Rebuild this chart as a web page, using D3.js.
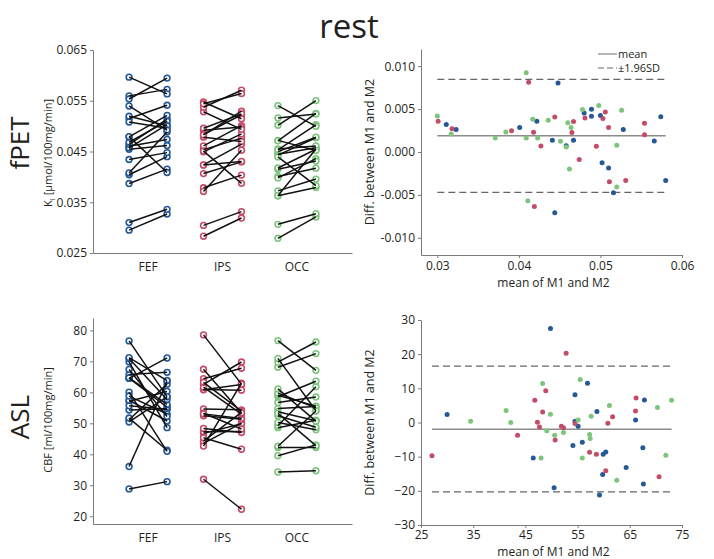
<!DOCTYPE html>
<html>
<head>
<meta charset="utf-8">
<script src="https://cdn.jsdelivr.net/npm/d3@7"></script>
<style>
  html, body { margin: 0; padding: 0; background: #ffffff; }
  svg { display: block; font-family: "Open Sans", "Noto Sans", sans-serif; }
</style>
</head>
<body>
<svg id="chart" width="714" height="559"></svg>
<script>
// ---------------- data ----------------
const regions = ["FEF", "IPS", "OCC"];
const regionColors = ["#255896", "#c44c68", "#7dc47d"];

// fPET Bland-Altman: mean of M1 and M2, difference (M2 - M1)
const fpetMeanFEF = [0.0311,0.0323,0.0401,0.0422,0.0441,0.0448,0.0458,0.0467,0.0480,0.0489,0.0489,0.0500,0.0528,0.0502,0.0510,0.0516,0.0566,0.0574,0.0580,0.0444];
const fpetDiffFEF = [0.00319,0.00261,0.00284,0.00358,0.00136,0.00805,0.00074,0.00136,0.00455,0.00498,0.00416,0.00424,0.00261,-0.00125,-0.00187,-0.00475,0.00128,0.00412,-0.00331,-0.00707];
const fpetMeanIPS = [0.0301,0.0318,0.0391,0.0412,0.0418,0.0427,0.0444,0.0465,0.0467,0.0474,0.0481,0.0495,0.0503,0.0506,0.0510,0.0511,0.0531,0.0554,0.0554,0.0419];
const fpetDiffIPS = [0.00358,0.00272,0.00249,0.00813,0.00230,0.00070,0.00409,0.00226,0.00354,-0.00086,0.00397,0.00066,0.00389,0.00467,0.00284,-0.00346,-0.00331,0.00335,0.00202,-0.00635];
const fpetMeanOCC = [0.0300,0.0317,0.0371,0.0384,0.0409,0.0409,0.0417,0.0423,0.0436,0.0451,0.0458,0.0460,0.0464,0.0462,0.0478,0.0498,0.0520,0.0520,0.0526,0.0411];
const fpetDiffOCC = [0.00420,0.00210,0.00163,0.00233,0.00922,0.00163,0.00381,0.00163,0.00370,0.00125,0.00058,0.00342,0.00284,-0.00198,0.00494,0.00541,-0.00409,0.00078,0.00486,-0.00567];
const fpetLimits = { mean: 0.0019, upper: 0.00845, lower: -0.0047 };

// ASL Bland-Altman
const aslMeanFEF = [30.0,49.8,56.9,54.5,58.7,67.8,66.1,54.5,55.1,46.5,50.5,54.1,55.9,59.9,60.4,59.8,59.2,64.3,67.5,67.6];
const aslDiffFEF = [2.35,27.5,11.5,8.1,3.2,6.6,0.7,0.4,-1.1,-10.4,-19.1,-6.7,-5.8,-9.3,-8.6,-15.2,-21.2,-13.2,-7.4,-18.0];
const aslMeanIPS = [46.8,48.9,48.3,47.3,52.8,61.7,66.2,66.1,54.5,60.8,47.7,50.7,51.9,52.3,43.5,27.1,57.3,58.6,60.4,70.6];
const aslDiffIPS = [6.5,9.3,3.1,0.1,20.3,1.7,7.2,3.4,-0.3,-0.2,-1.3,-5.1,-1.1,-1.5,-3.7,-9.7,-8.7,-9.3,-14.1,-15.9];
const aslMeanOCC = [34.5,41.3,42.2,48.3,49.8,55.5,61.1,57.6,70.3,73.0,55.1,49.1,50.6,52.3,48.0,57.3,57.4,55.9,62.5,71.9];
const aslDiffOCC = [0.4,3.5,0.0,11.4,2.4,12.6,5.0,1.8,4.4,6.5,0.7,-2.4,-3.7,-2.9,-10.4,-3.5,-4.7,-10.4,-16.9,-9.6];
const aslLimits = { mean: -2.0, upper: 16.5, lower: -20.3 };

// tick values
const fpetPairTicks = [0.025, 0.035, 0.045, 0.055, 0.065];
const fpetBAxTicks = [0.03, 0.04, 0.05, 0.06];
const fpetBAyTicks = [-0.010, -0.005, 0.000, 0.005, 0.010];
const aslPairTicks = [20, 30, 40, 50, 60, 70, 80];
const aslBAxTicks = [25, 35, 45, 55, 65, 75];
const aslBAyTicks = [-30, -20, -10, 0, 10, 20, 30];

// ---------------- drawing ----------------
const svg = d3.select("#chart");
const axisColor = "#7a7a7a";
const textColor = "#231f20";
const fmt = (digits) => (d) => (Math.abs(d) < 1e-12 ? (0).toFixed(digits) : d.toFixed(digits));

function styleAxis(g, fontSize) {
  g.selectAll("path.domain").attr("stroke", axisColor).attr("stroke-width", 1);
  g.selectAll(".tick line").attr("stroke", axisColor).attr("stroke-width", 1);
  g.selectAll(".tick text").attr("fill", textColor)
    .style("font-size", fontSize + "px")
    .style("font-family", '"Open Sans", sans-serif');
}

function pairedPanel(cfg) {
  const x = d3.scaleBand().domain(regions).range([cfg.x0, cfg.x1])
    .paddingInner(0).paddingOuter(0.24);
  const y = d3.scaleLinear().domain(cfg.yDomain).range([cfg.y1, cfg.y0]);
  const off = 19;

  const gx = svg.append("g").attr("transform", `translate(0,${cfg.y1})`)
    .call(d3.axisBottom(x).tickSize(0).tickPadding(9));
  styleAxis(gx, 12);
  const gy = svg.append("g").attr("transform", `translate(${cfg.x0},0)`)
    .call(d3.axisLeft(y).tickValues(cfg.yTicks).tickSize(3).tickSizeOuter(0).tickPadding(3)
      .tickFormat(cfg.tickFormat));
  styleAxis(gy, 12);

  cfg.means.forEach((means, r) => {
    const diffs = cfg.diffs[r];
    const pairs = means.map((m, i) => ({ m1: m - diffs[i] / 2, m2: m + diffs[i] / 2 }));
    const cx = x(regions[r]) + x.bandwidth() / 2;
    const g = svg.append("g");
    g.selectAll("circle.l").data(pairs).join("circle")
      .attr("cx", cx - off).attr("cy", d => y(d.m1)).attr("r", 2.9)
      .attr("fill", "#fff").attr("stroke", regionColors[r]).attr("stroke-width", 1.6);
    g.selectAll("circle.r").data(pairs).join("circle")
      .attr("cx", cx + off).attr("cy", d => y(d.m2)).attr("r", 2.9)
      .attr("fill", "#fff").attr("stroke", regionColors[r]).attr("stroke-width", 1.6);
    g.selectAll("line").data(pairs).join("line")
      .attr("x1", cx - off).attr("x2", cx + off)
      .attr("y1", d => y(d.m1)).attr("y2", d => y(d.m2))
      .attr("stroke", "#111").attr("stroke-width", 1.5);
  });
  return { x, y };
}

function baPanel(cfg) {
  const x = d3.scaleLinear().domain(cfg.xDomain).range([cfg.x0, cfg.x1]);
  const y = d3.scaleLinear().domain(cfg.yDomain).range([cfg.y1, cfg.y0]);

  const gx = svg.append("g").attr("transform", `translate(0,${cfg.y1})`)
    .call(d3.axisBottom(x).tickValues(cfg.xTicks).tickSize(3).tickSizeOuter(0).tickPadding(cfg.xPad)
      .tickFormat(cfg.xFormat));
  styleAxis(gx, 12);
  const gy = svg.append("g").attr("transform", `translate(${cfg.x0},0)`)
    .call(d3.axisLeft(y).tickValues(cfg.yTicks).tickSize(3).tickSizeOuter(0).tickPadding(3)
      .tickFormat(cfg.yFormat));
  styleAxis(gy, 12);

  const allMeans = cfg.means.flat();
  const [mn, mx] = d3.extent(allMeans);
  svg.append("line").attr("x1", x(mn)).attr("x2", x(mx))
    .attr("y1", y(cfg.limits.mean)).attr("y2", y(cfg.limits.mean))
    .attr("stroke", "#8c8c8c").attr("stroke-width", 1.5);
  [cfg.limits.upper, cfg.limits.lower].forEach(v => {
    svg.append("line").attr("x1", x(mn)).attr("x2", x(mx))
      .attr("y1", y(v)).attr("y2", y(v))
      .attr("stroke", "#666").attr("stroke-width", 1.2).attr("stroke-dasharray", "7,4");
  });

  cfg.means.forEach((means, r) => {
    const diffs = cfg.diffs[r];
    svg.append("g").selectAll("circle").data(means.map((m, i) => [m, diffs[i]])).join("circle")
      .attr("cx", d => x(d[0])).attr("cy", d => y(d[1])).attr("r", 2.5)
      .attr("fill", regionColors[r]);
  });

  // axis labels
  svg.append("text").attr("x", (cfg.x0 + cfg.x1) / 2 + 2).attr("y", cfg.y1 + cfg.xLabelOffset)
    .attr("text-anchor", "middle").attr("fill", textColor).style("font-size", "12px")
    .text("mean of  M1 and M2");
  svg.append("text")
    .attr("transform", `translate(${cfg.x0 - 47},${(cfg.y0 + cfg.y1) / 2}) rotate(-90)`)
    .attr("text-anchor", "middle").attr("fill", textColor).style("font-size", "12.5px")
    .text("Diff. between  M1 and M2");
  return { x, y };
}

// Title
svg.append("text").attr("x", 349).attr("y", 38).attr("text-anchor", "middle")
  .attr("fill", textColor).style("font-size", "33px").text("rest");

// Row labels
svg.append("text").attr("transform", "translate(29,143) rotate(-90)")
  .attr("text-anchor", "middle").attr("fill", textColor).style("font-size", "26px").text("fPET");
svg.append("text").attr("transform", "translate(29,417) rotate(-90)")
  .attr("text-anchor", "middle").attr("fill", textColor).style("font-size", "26px").text("ASL");

// Y-axis labels for paired plots
const kl = svg.append("text").attr("transform", "translate(52,153) rotate(-90)")
  .attr("text-anchor", "middle").attr("fill", textColor).style("font-size", "11px");
kl.append("tspan").text("K");
kl.append("tspan").attr("dy", 3).style("font-size", "8px").text("i");
kl.append("tspan").attr("dy", -3).text(" [µmol/100mg/min]");
svg.append("text").attr("transform", "translate(52,420) rotate(-90)")
  .attr("text-anchor", "middle").attr("fill", textColor).style("font-size", "11px")
  .text("CBF [ml/100mg/min]");

// Panels
pairedPanel({
  x0: 93, x1: 352, y0: 50, y1: 253,
  yDomain: [0.025, 0.065], yTicks: fpetPairTicks, tickFormat: fmt(3),
  means: [fpetMeanFEF, fpetMeanIPS, fpetMeanOCC],
  diffs: [fpetDiffFEF, fpetDiffIPS, fpetDiffOCC]
});
baPanel({
  x0: 421, x1: 682, y0: 49, y1: 255, xLabelOffset: 32, xPad: 3,
  xDomain: [0.028, 0.06], yDomain: [-0.012, 0.012],
  xTicks: fpetBAxTicks, yTicks: fpetBAyTicks, xFormat: fmt(2), yFormat: fmt(3),
  means: [fpetMeanFEF, fpetMeanIPS, fpetMeanOCC],
  diffs: [fpetDiffFEF, fpetDiffIPS, fpetDiffOCC],
  limits: fpetLimits
});
pairedPanel({
  x0: 93, x1: 352, y0: 318, y1: 524,
  yDomain: [17.5, 84], yTicks: aslPairTicks, tickFormat: d3.format("d"),
  means: [aslMeanFEF, aslMeanIPS, aslMeanOCC],
  diffs: [aslDiffFEF, aslDiffIPS, aslDiffOCC]
});
baPanel({
  x0: 421, x1: 682, y0: 320, y1: 525, xLabelOffset: 30.5, xPad: 2,
  xDomain: [25, 75], yDomain: [-30, 30],
  xTicks: aslBAxTicks, yTicks: aslBAyTicks, xFormat: d3.format("d"), yFormat: d3.format("d"),
  means: [aslMeanFEF, aslMeanIPS, aslMeanOCC],
  diffs: [aslDiffFEF, aslDiffIPS, aslDiffOCC],
  limits: aslLimits
});

// Legend (top-right panel)
const lg = svg.append("g");
lg.append("line").attr("x1", 598).attr("x2", 617).attr("y1", 54).attr("y2", 54)
  .attr("stroke", "#8c8c8c").attr("stroke-width", 1.3);
lg.append("text").attr("x", 618).attr("y", 58).attr("fill", textColor)
  .style("font-size", "11px").text("mean");
lg.append("line").attr("x1", 598).attr("x2", 617).attr("y1", 68).attr("y2", 68)
  .attr("stroke", "#666").attr("stroke-width", 1.2).attr("stroke-dasharray", "6,3");
lg.append("text").attr("x", 618).attr("y", 72).attr("fill", textColor)
  .style("font-size", "11px").text("±1.96SD");
</script>
</body>
</html>
